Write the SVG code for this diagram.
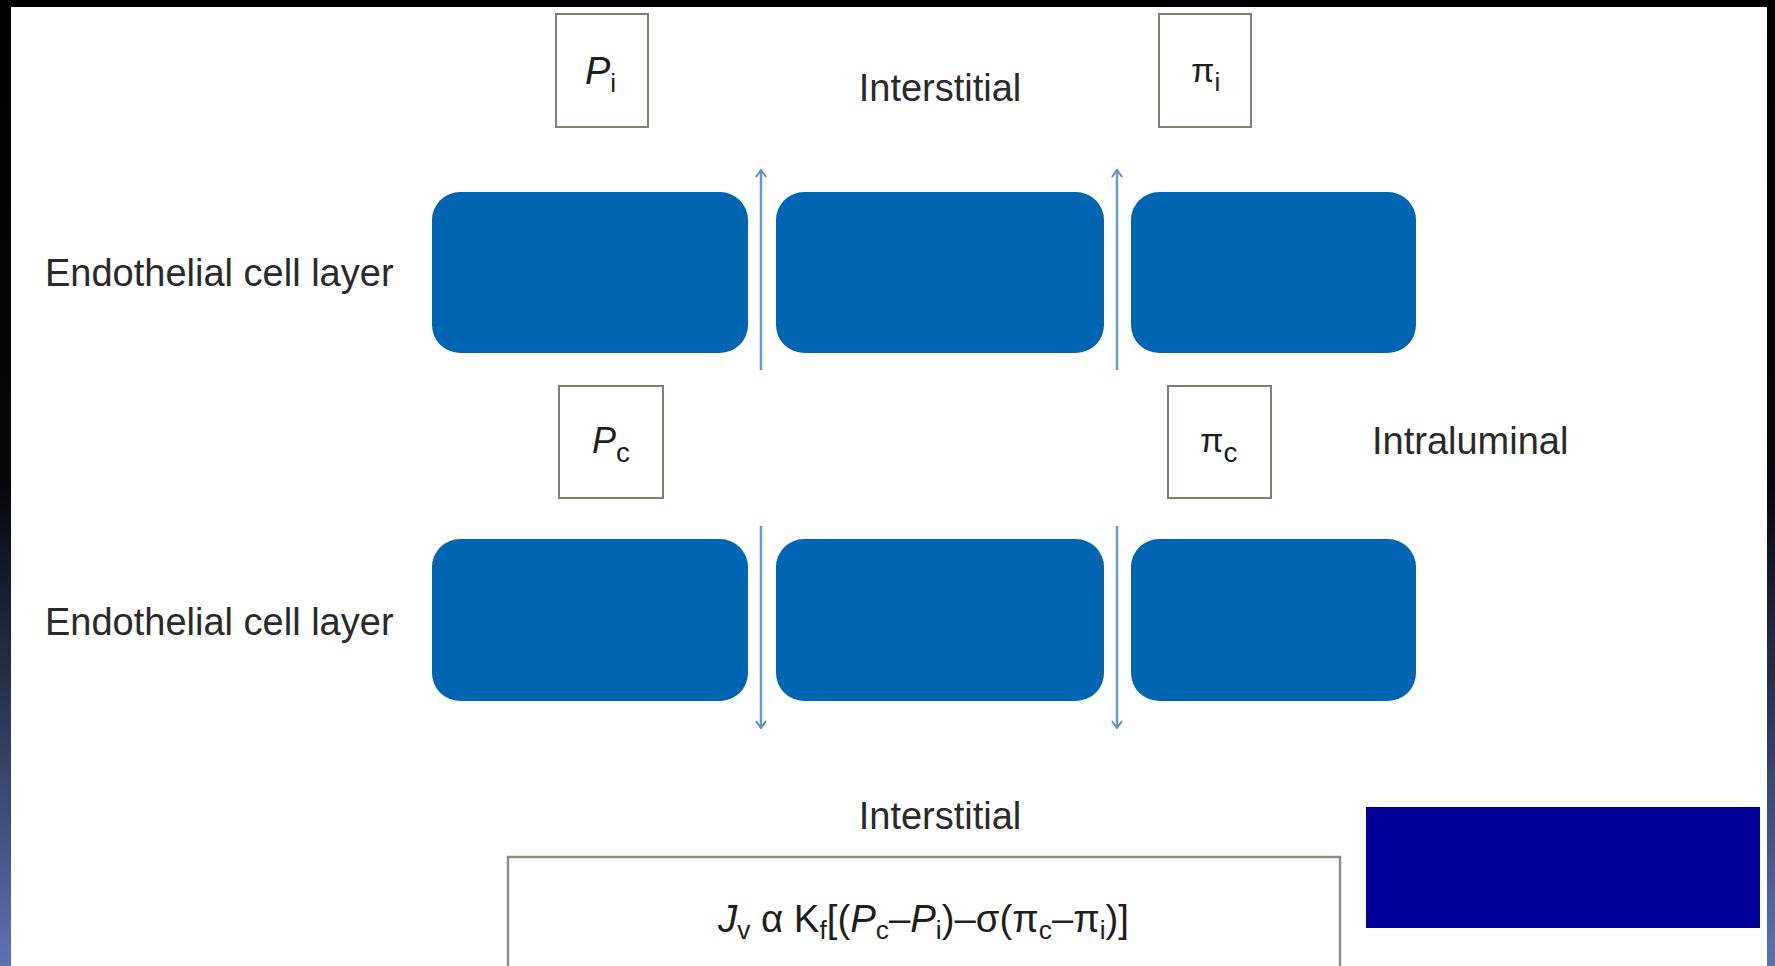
<svg xmlns="http://www.w3.org/2000/svg" width="1775" height="966" viewBox="0 0 1775 966">
  <defs>
    <linearGradient id="edge" x1="0" y1="0" x2="0" y2="1">
      <stop offset="0" stop-color="#000000"/>
      <stop offset="0.5" stop-color="#05070c"/>
      <stop offset="0.75" stop-color="#2b3a5c"/>
      <stop offset="1" stop-color="#5d72b3"/>
    </linearGradient>
    <marker id="chev" viewBox="0 0 10 12" refX="9" refY="6" markerWidth="10" markerHeight="12" markerUnits="userSpaceOnUse" orient="auto">
      <path d="M2,1 L9,6 L2,11" fill="none" stroke="#5f8fbf" stroke-width="2"/>
    </marker>
    <style>
      .cell { fill: #0065b2; }
      .box { fill: #ffffff; stroke: #7b8272; stroke-width: 2; }
      .lbl { font-family: "Liberation Sans", Arial, sans-serif; font-size: 38px; fill: #2a2a2a; }
      .sym { font-family: "Liberation Sans", Arial, sans-serif; fill: #1e1e1e; }
      .it { font-style: italic; }
      .flow { stroke: #6b98c4; stroke-width: 2.5; fill: none; }
    </style>
  </defs>

  <!-- frame -->
  <rect x="0" y="0" width="1775" height="966" fill="#000000"/>
  <rect x="0" y="0" width="11" height="966" fill="url(#edge)"/>
  <rect x="1767" y="0" width="8" height="966" fill="url(#edge)"/>
  <rect x="11" y="7" width="1756" height="959" fill="#ffffff"/>

  <!-- labels -->
  <g id="label-interstitial-top"><text class="lbl" x="940" y="101" text-anchor="middle">Interstitial</text></g>
  <g id="label-endo-top"><text class="lbl" x="45" y="286">Endothelial cell layer</text></g>
  <g id="label-intraluminal"><text class="lbl" x="1372" y="454">Intraluminal</text></g>
  <g id="label-endo-bottom"><text class="lbl" x="45" y="635">Endothelial cell layer</text></g>
  <g id="label-interstitial-bottom"><text class="lbl" x="940" y="829" text-anchor="middle">Interstitial</text></g>

  <!-- pressure boxes -->
  <g id="box-Pi">
    <rect class="box" x="556" y="14" width="92" height="113"/>
    <text class="sym" x="585" y="84"><tspan class="it" font-size="38">P</tspan><tspan font-size="26" dy="8">i</tspan></text>
  </g>
  <g id="box-pii">
    <rect class="box" x="1159" y="14" width="92" height="113"/>
    <text class="sym" x="1191" y="82"><tspan font-size="34">π</tspan><tspan font-size="26" dy="9">i</tspan></text>
  </g>
  <g id="box-Pc">
    <rect class="box" x="559" y="386" width="104" height="112"/>
    <text class="sym" x="592" y="453"><tspan class="it" font-size="36">P</tspan><tspan font-size="28" dy="9">c</tspan></text>
  </g>
  <g id="box-pic">
    <rect class="box" x="1168" y="386" width="103" height="112"/>
    <text class="sym" x="1200" y="452"><tspan font-size="34">π</tspan><tspan font-size="28" dy="10">c</tspan></text>
  </g>

  <!-- endothelial cells -->
  <g id="cells-top">
    <rect class="cell" x="432" y="192" width="316" height="161" rx="28"/>
    <rect class="cell" x="776" y="192" width="328" height="161" rx="28"/>
    <rect class="cell" x="1131" y="192" width="285" height="161" rx="28"/>
  </g>
  <g id="cells-bottom">
    <rect class="cell" x="432" y="539" width="316" height="162" rx="28"/>
    <rect class="cell" x="776" y="539" width="328" height="162" rx="28"/>
    <rect class="cell" x="1131" y="539" width="285" height="162" rx="28"/>
  </g>

  <!-- connectors -->
  <g id="connectors">
    <line class="flow" x1="761" y1="370" x2="761" y2="170" marker-end="url(#chev)"/>
    <line class="flow" x1="1117" y1="370" x2="1117" y2="170" marker-end="url(#chev)"/>
    <line class="flow" x1="761" y1="526" x2="761" y2="728" marker-end="url(#chev)"/>
    <line class="flow" x1="1117" y1="526" x2="1117" y2="728" marker-end="url(#chev)"/>
  </g>

  <!-- formula -->
  <g id="formula">
    <rect x="508" y="857" width="832" height="130" fill="#ffffff" stroke="#8a8f86" stroke-width="2.5"/>
    <text class="sym" x="718" y="932" font-size="38" textLength="411" lengthAdjust="spacingAndGlyphs"><tspan class="it">J</tspan><tspan font-size="26" dy="7">v</tspan><tspan dy="-7"> α K</tspan><tspan font-size="26" dy="7">f</tspan><tspan dy="-7">[(</tspan><tspan class="it">P</tspan><tspan font-size="26" dy="7">c</tspan><tspan dy="-7">–</tspan><tspan class="it">P</tspan><tspan font-size="26" dy="7">i</tspan><tspan dy="-7">)–σ(π</tspan><tspan font-size="26" dy="7">c</tspan><tspan dy="-7">–π</tspan><tspan font-size="26" dy="7">i</tspan><tspan dy="-7">)]</tspan></text>
  </g>

  <!-- cover block -->
  <g id="cover-block"><rect x="1366" y="807" width="394" height="121" fill="#000099"/></g>
</svg>
